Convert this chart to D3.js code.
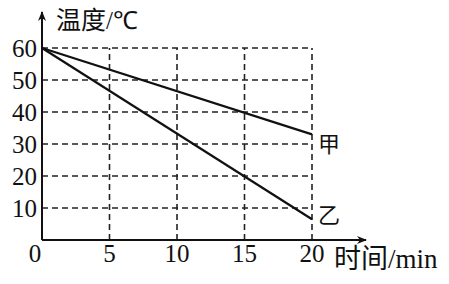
<!DOCTYPE html>
<html>
<head>
<meta charset="utf-8">
<script src="https://cdn.jsdelivr.net/npm/d3@7"></script>
<style>
  body { margin: 0; background: #fff; }
</style>
</head>
<body>
<div id="chart"></div>
<script>
// data
var xTicks = [0, 5, 10, 15, 20];
var yTicks = [10, 20, 30, 40, 50, 60];
var seriesNames = ["甲", "乙"];
var seriesJia = [[0, 60], [20, 33]];
var seriesYi = [[0, 60], [20, 6.5]];

var serif = "'Liberation Serif', 'Times New Roman', serif";
var cjk = "'Noto Sans CJK SC', sans-serif";

var width = 449, height = 284;
var svg = d3.select("#chart").append("svg")
    .attr("width", width)
    .attr("height", height);

var x = d3.scaleLinear().domain([0, 20]).range([42, 312]);
var y = d3.scaleLinear().domain([0, 60]).range([240, 48]);

// dashed grid
var grid = svg.append("g")
    .attr("stroke", "#222")
    .attr("stroke-width", 1.6)
    .attr("stroke-dasharray", "6,4");
grid.selectAll(".hgrid")
    .data(yTicks)
    .enter().append("line")
    .attr("x1", x(0)).attr("x2", x(20))
    .attr("y1", function(d) { return y(d); })
    .attr("y2", function(d) { return y(d); });
grid.selectAll(".vgrid")
    .data(xTicks.slice(1))
    .enter().append("line")
    .attr("y1", y(0)).attr("y2", y(60))
    .attr("x1", function(d) { return x(d); })
    .attr("x2", function(d) { return x(d); });

// axes with arrows
svg.append("defs").append("marker")
    .attr("id", "arrow")
    .attr("viewBox", "0 0 10 10")
    .attr("refX", 9).attr("refY", 5)
    .attr("markerWidth", 10).attr("markerHeight", 10)
    .attr("markerUnits", "userSpaceOnUse")
    .attr("orient", "auto")
    .append("path")
    .attr("d", "M0,1 L10,5 L0,9 L3,5 Z")
    .attr("fill", "#111");

svg.append("line")
    .attr("x1", x(0)).attr("y1", y(0))
    .attr("x2", 366).attr("y2", y(0))
    .attr("stroke", "#111").attr("stroke-width", 2)
    .attr("marker-end", "url(#arrow)");
svg.append("line")
    .attr("x1", x(0)).attr("y1", y(0))
    .attr("x2", x(0)).attr("y2", 12)
    .attr("stroke", "#111").attr("stroke-width", 2)
    .attr("marker-end", "url(#arrow)");

// tick labels
svg.selectAll(".ylab")
    .data(yTicks)
    .enter().append("text")
    .attr("x", x(0) - 5)
    .attr("y", function(d) { return y(d); })
    .attr("dy", "0.35em")
    .attr("text-anchor", "end")
    .style("font-family", serif)
    .style("font-size", "25px")
    .attr("fill", "#111")
    .text(function(d) { return d; });
svg.selectAll(".xlab")
    .data(xTicks)
    .enter().append("text")
    .attr("x", function(d, i) { return i == 0 ? x(d) - 7 : x(d); })
    .attr("y", 262)
    .attr("text-anchor", "middle")
    .style("font-family", serif)
    .style("font-size", "25px")
    .attr("fill", "#111")
    .text(function(d) { return d; });

// axis titles
var yt = svg.append("text").attr("x", 56).attr("y", 29).style("font-size", "25px").attr("fill", "#111");
yt.append("tspan").style("font-family", cjk).text("温度");
yt.append("tspan").style("font-family", serif).text("/℃");
var xt = svg.append("text").attr("x", 334).attr("y", 268).style("font-size", "27px").attr("fill", "#111");
xt.append("tspan").style("font-family", cjk).text("时间");
xt.append("tspan").style("font-family", serif).text("/min");

// lines
var line = d3.line()
    .x(function(d) { return x(d[0]); })
    .y(function(d) { return y(d[1]); });
var allSeries = [seriesJia, seriesYi];
svg.selectAll(".series")
    .data(allSeries)
    .enter().append("path")
    .attr("d", line)
    .attr("fill", "none")
    .attr("stroke", "#111")
    .attr("stroke-width", 2.2);

svg.selectAll(".slab")
    .data(allSeries)
    .enter().append("text")
    .attr("x", x(20) + 6)
    .attr("y", function(d, i) { return i == 0 ? y(30) : y(d[1][1]) - 4; })
    .attr("dy", "0.36em")
    .style("font-family", cjk)
    .style("font-size", "22px")
    .attr("fill", "#111")
    .text(function(d, i) { return seriesNames[i]; });
</script>
</body>
</html>
